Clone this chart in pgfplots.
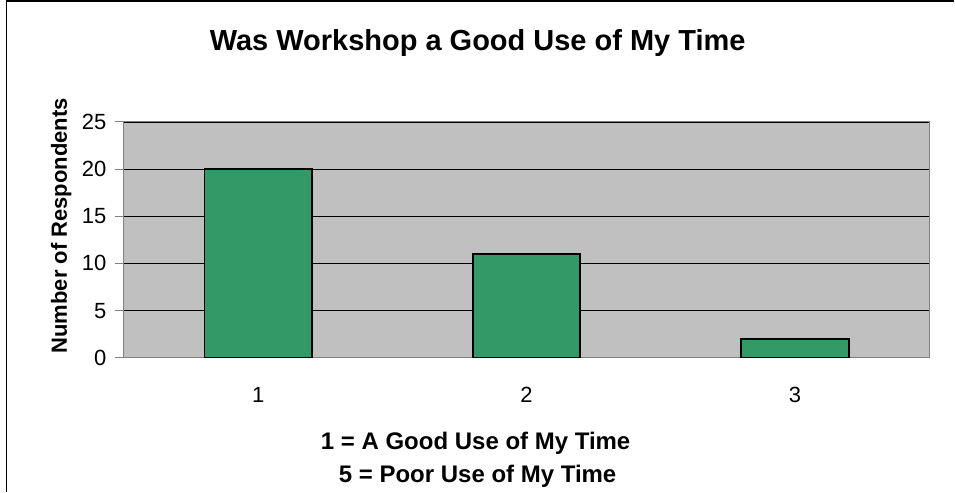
\documentclass[border=0pt]{standalone}
\usepackage{pgfplots}
\pgfplotsset{compat=1.18}
\usepackage{fontspec}
\setmainfont{Liberation Sans}
\definecolor{plotbg}{HTML}{C0C0C0}
\definecolor{bargreen}{HTML}{339966}
\definecolor{frame}{HTML}{808080}
\begin{document}
\begin{tikzpicture}[x=1pt,y=1pt]
\path[fill=white] (0,0) rectangle (955,492);
\draw[line width=1.5pt,black] (6.5,0) -- (6.5,491) -- (955,491);
\begin{axis}[
  at={(124pt,134pt)}, anchor=south west,
  scale only axis, width=806pt, height=236pt,
  xmin=0.5, xmax=3.5, ymin=0, ymax=25,
  axis background/.style={fill=plotbg},
  axis line style={frame, line width=1pt},
  ytick={0,5,10,15,20,25},
  ymajorgrids, grid style={black, line width=0.8pt},
  xtick={1,2,3}, xticklabels={1,2,3},
  major x tick style={draw=none},
  extra x ticks={0.5,1.5,2.5,3.5}, extra x tick labels={},
  extra x tick style={grid=none, tick style={draw=frame, line width=1pt}, major tick length=8pt, tick align=outside},
  tick align=outside, major tick length=9pt,
  y tick style={draw=frame, line width=1pt},
  tick pos=left,
  yticklabel style={font=\fontsize{22}{24}\selectfont, anchor=east, xshift=-5pt},
  xticklabel style={font=\fontsize{22}{24}\selectfont, anchor=base, yshift=-36pt},
  /pgf/number format/assume math mode=true,
  bar width=0.4,
]
\addplot[ybar, fill=bargreen, draw=black, line width=1.8pt] coordinates {(1,20) (2,11) (3,2)};
\end{axis}
\node[font=\bfseries\fontsize{29}{32}\selectfont, anchor=base] at (478,441) {Was Workshop a Good Use of My Time};
\node[font=\bfseries\fontsize{22}{24}\selectfont, rotate=90, anchor=base] at (67,266) {Number of Respondents};
\node[font=\bfseries\fontsize{24}{26}\selectfont, anchor=base] at (476,42) {1 = A Good Use of My Time};
\node[font=\bfseries\fontsize{24}{26}\selectfont, anchor=base] at (478,9) {5 = Poor Use of My Time};
\end{tikzpicture}
\end{document}
